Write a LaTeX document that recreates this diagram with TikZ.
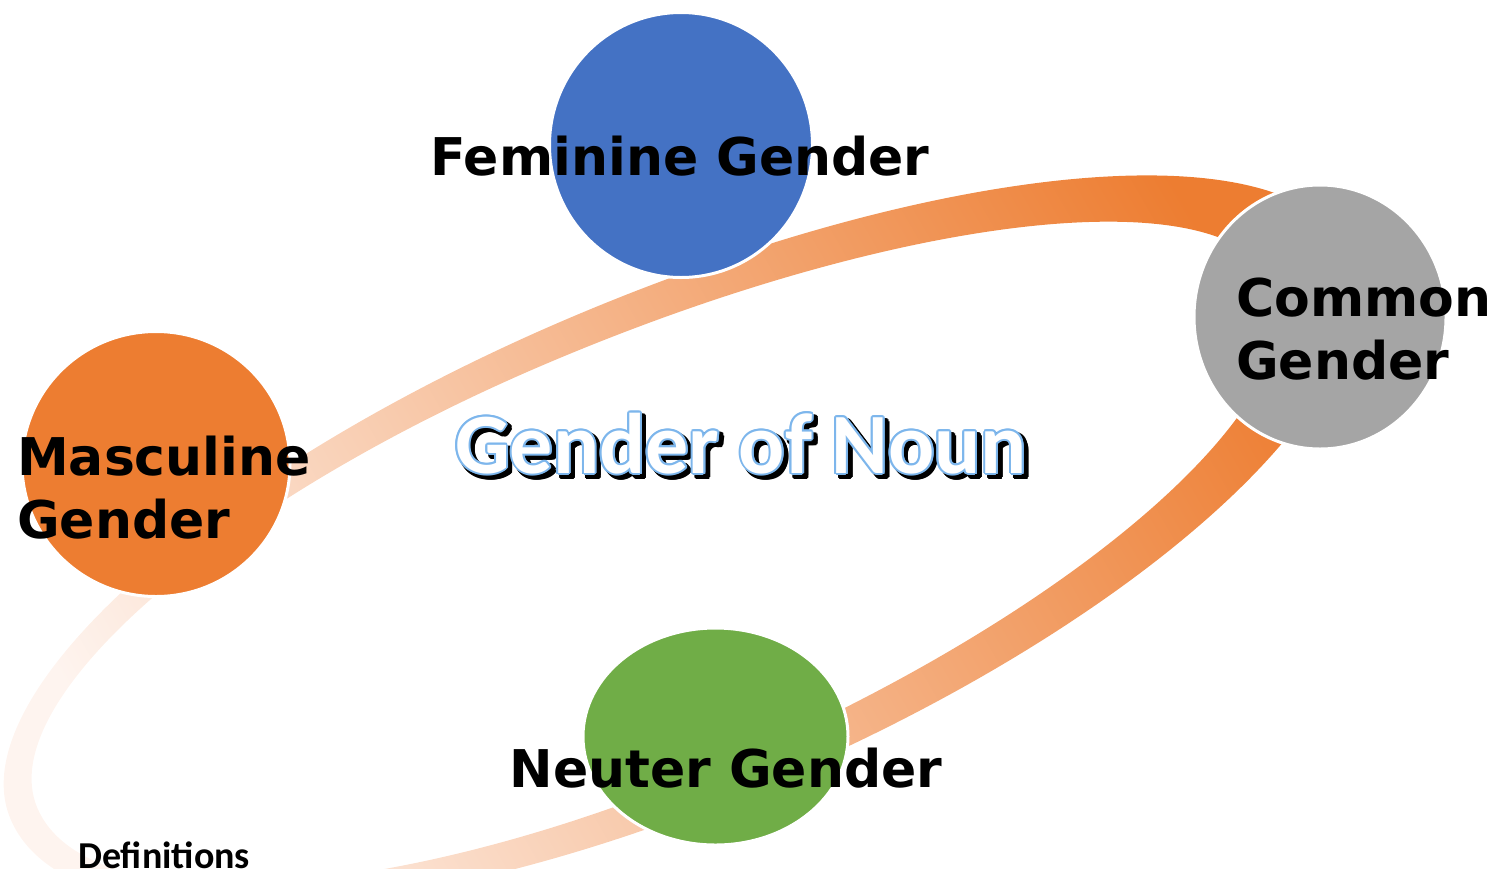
\documentclass[tikz,border=0pt]{standalone}
\usepackage{fontspec}
\newfontfamily\labelfont{DejaVu Sans}
\newfontfamily\calfont{Carlito}
\usetikzlibrary{shapes.geometric}
\definecolor{gblue}{HTML}{4472C4}
\definecolor{gorange}{HTML}{ED7D31}
\definecolor{glight}{HTML}{FEF4EF}
\definecolor{ggray}{HTML}{A5A5A5}
\definecolor{ggreen}{HTML}{70AD47}
\definecolor{gline}{HTML}{7DB6EC}
\tikzset{
  gcircle/.style={ellipse, draw=white, line width=3bp, inner sep=0pt},
  glabel/.style={font=\labelfont\bfseries\fontsize{52bp}{63bp}\selectfont, inner sep=0pt, align=left},
  gtitle/.style={font=\calfont\bfseries\fontsize{86bp}{90bp}\selectfont, inner sep=0pt, anchor=base},
}
\begin{document}
\begin{tikzpicture}[x=1bp,y=-1bp]
\clip (0,0) rectangle (1499,868);
% the ring behind the circles
\begin{scope}[shift={(666,541)}, rotate=23]
\shade[bottom color=glight, top color=gorange, shading angle=-60, even odd rule]
  (740,0) arc[start angle=0, end angle=90, x radius=740, y radius=262]
    arc[start angle=90, end angle=180, x radius=712, y radius=262]
    arc[start angle=180, end angle=270, x radius=712, y radius=243]
    arc[start angle=270, end angle=360, x radius=740, y radius=243] -- cycle
  (660,0) arc[start angle=0, end angle=90, x radius=700, y radius=228]
    arc[start angle=90, end angle=180, x radius=643, y radius=228]
    arc[start angle=180, end angle=270, x radius=643, y radius=210]
    arc[start angle=270, end angle=360, x radius=700, y radius=210] -- cycle;
\end{scope}

\node[gcircle, fill=gblue, minimum width=263bp, minimum height=265bp] (fem) at (681,145) {};
\node[gcircle, fill=ggray, minimum width=252bp, minimum height=264bp] (com) at (1320,317) {};
\node[gcircle, fill=gorange, minimum width=268bp, minimum height=265bp] (mas) at (156,464) {};
\node[gcircle, fill=ggreen, minimum width=265bp, minimum height=217bp] (neu) at (715.5,736.5) {};

\node[glabel, anchor=base] (femlabel) at (680,175) {Feminine Gender};
\node[glabel, anchor=base west] (comlabel) at (1236,379) {Common\\Gender};
\node[glabel, anchor=base west] (maslabel) at (17,538) {Masculine\\Gender};
\node[glabel, anchor=base] (neulabel) at (726,787) {Neuter Gender};

% title with shadow and outline
\foreach \a in {0,30,...,330}
  \node[gtitle, text=black] at ([shift={(\a:2.5)}] 745,477) {Gender of Noun};
\foreach \a in {0,30,...,330}
  \node[gtitle, text=gline] at ([shift={(\a:2)}] 741,473) {Gender of Noun};
\node[gtitle, text=white] (title) at (741,473) {Gender of Noun};

\node[font=\calfont\bfseries\fontsize{38bp}{40bp}\selectfont, anchor=base west, inner sep=0pt] (defs) at (78,868) {Definitions};
\end{tikzpicture}
\end{document}
